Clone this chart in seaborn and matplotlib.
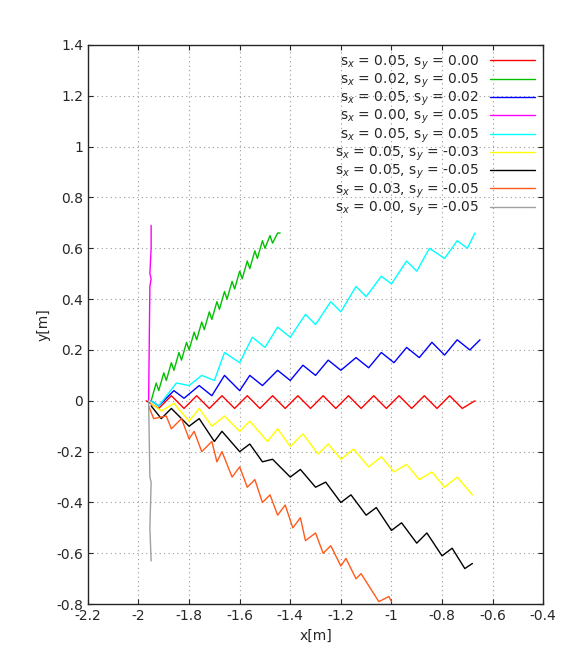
import matplotlib
matplotlib.use("Agg")
import matplotlib.pyplot as plt
import seaborn as sns


def zigzag(start, troughs, peaks, end):
    # merge trough/peak lists in x order
    pts = [start] + sorted(troughs + peaks, key=lambda p: p[0]) + [end]
    return [p[0] for p in pts], [p[1] for p in pts]


red_x = [-1.97, -1.92, -1.87, -1.82, -1.77, -1.72, -1.67, -1.62, -1.57, -1.52, -1.47, -1.42, -1.37,
         -1.32, -1.27, -1.22, -1.17, -1.12, -1.07, -1.02, -0.97, -0.92, -0.87, -0.82, -0.77, -0.72, -0.67]
red_y = [0.0, -0.03, 0.02, -0.03, 0.02, -0.03, 0.02, -0.03, 0.02, -0.03, 0.02, -0.03, 0.02,
         -0.03, 0.02, -0.03, 0.02, -0.03, 0.02, -0.03, 0.02, -0.03, 0.02, -0.03, 0.02, -0.03, 0.0]

green_x = [-1.95, -1.93, -1.92, -1.90, -1.89, -1.87, -1.86, -1.84, -1.83, -1.81, -1.80, -1.78, -1.77,
           -1.75, -1.74, -1.72, -1.71, -1.69, -1.68, -1.66, -1.65, -1.63, -1.62, -1.60, -1.59, -1.57,
           -1.56, -1.54, -1.53, -1.51, -1.50, -1.48, -1.47, -1.45, -1.44]
green_y = [0.0, 0.07, 0.04, 0.11, 0.08, 0.15, 0.12, 0.19, 0.16, 0.23, 0.20, 0.27, 0.24,
           0.31, 0.28, 0.35, 0.32, 0.39, 0.36, 0.43, 0.40, 0.47, 0.44, 0.51, 0.48, 0.55,
           0.52, 0.59, 0.56, 0.63, 0.60, 0.65, 0.62, 0.66, 0.66]

blue_troughs = [(-1.92, -0.02), (-1.82, 0.01), (-1.71, 0.02), (-1.60, 0.04), (-1.51, 0.06), (-1.40, 0.08),
                (-1.30, 0.10), (-1.20, 0.12), (-1.09, 0.13), (-0.99, 0.15), (-0.89, 0.17), (-0.79, 0.18), (-0.69, 0.20)]
blue_peaks = [(-1.86, 0.04), (-1.76, 0.06), (-1.66, 0.10), (-1.56, 0.10), (-1.45, 0.12), (-1.35, 0.14),
              (-1.25, 0.16), (-1.14, 0.17), (-1.04, 0.19), (-0.94, 0.21), (-0.84, 0.23), (-0.74, 0.24)]

cyan_troughs = [(-1.92, -0.02), (-1.80, 0.06), (-1.70, 0.08), (-1.60, 0.15), (-1.50, 0.21), (-1.40, 0.25),
                (-1.30, 0.30), (-1.20, 0.35), (-1.10, 0.41), (-1.00, 0.46), (-0.90, 0.51), (-0.79, 0.56), (-0.70, 0.60)]
cyan_peaks = [(-1.85, 0.07), (-1.75, 0.10), (-1.66, 0.19), (-1.55, 0.25), (-1.45, 0.29), (-1.34, 0.34),
              (-1.24, 0.39), (-1.14, 0.45), (-1.04, 0.49), (-0.94, 0.55), (-0.85, 0.60), (-0.74, 0.63)]

yellow_troughs = [(-1.91, -0.04), (-1.80, -0.08), (-1.71, -0.10), (-1.60, -0.12), (-1.49, -0.16), (-1.40, -0.18),
                  (-1.29, -0.21), (-1.20, -0.23), (-1.09, -0.26), (-0.99, -0.28), (-0.89, -0.31), (-0.79, -0.34)]
yellow_peaks = [(-1.86, -0.01), (-1.76, -0.03), (-1.66, -0.06), (-1.56, -0.08), (-1.45, -0.11), (-1.35, -0.13),
                (-1.25, -0.17), (-1.15, -0.19), (-1.04, -0.22), (-0.94, -0.25), (-0.84, -0.28), (-0.74, -0.30)]

black_troughs = [(-1.91, -0.07), (-1.80, -0.10), (-1.70, -0.16), (-1.60, -0.20), (-1.51, -0.24), (-1.40, -0.30),
                 (-1.30, -0.34), (-1.20, -0.40), (-1.10, -0.45), (-1.00, -0.51), (-0.90, -0.56), (-0.80, -0.61), (-0.71, -0.66)]
black_peaks = [(-1.87, -0.03), (-1.76, -0.07), (-1.67, -0.12), (-1.56, -0.17), (-1.47, -0.23), (-1.36, -0.27),
               (-1.26, -0.32), (-1.16, -0.37), (-1.06, -0.42), (-0.96, -0.48), (-0.86, -0.52), (-0.76, -0.58)]

orange_troughs = [(-1.94, -0.07), (-1.87, -0.11), (-1.80, -0.15), (-1.75, -0.20), (-1.69, -0.24), (-1.63, -0.30),
                  (-1.57, -0.34), (-1.51, -0.40), (-1.45, -0.45), (-1.39, -0.50), (-1.34, -0.55), (-1.27, -0.60),
                  (-1.20, -0.65), (-1.14, -0.70), (-1.05, -0.79)]
orange_peaks = [(-1.89, -0.06), (-1.83, -0.07), (-1.78, -0.12), (-1.71, -0.16), (-1.67, -0.20), (-1.60, -0.26),
                (-1.54, -0.31), (-1.48, -0.37), (-1.42, -0.41), (-1.36, -0.46), (-1.30, -0.52), (-1.24, -0.57),
                (-1.18, -0.62), (-1.12, -0.68), (-1.01, -0.77)]

magenta_x = [-1.96, -1.955, -1.95, -1.955, -1.95, -1.95]
magenta_y = [0.0, 0.45, 0.48, 0.50, 0.60, 0.69]
gray_x = [-1.96, -1.955, -1.95, -1.955, -1.95]
gray_y = [0.0, -0.30, -0.32, -0.50, -0.63]

labels = ["s$_x$ = 0.05, s$_y$ = 0.00", "s$_x$ = 0.02, s$_y$ = 0.05", "s$_x$ = 0.05, s$_y$ = 0.02",
          "s$_x$ = 0.00, s$_y$ = 0.05", "s$_x$ = 0.05, s$_y$ = 0.05", "s$_x$ = 0.05, s$_y$ = -0.03",
          "s$_x$ = 0.05, s$_y$ = -0.05", "s$_x$ = 0.03, s$_y$ = -0.05", "s$_x$ = 0.00, s$_y$ = -0.05"]
colors = ["#ff0000", "#00c000", "#0000ff", "#ff00ff", "#00ffff", "#ffff00", "#000000", "#ff5a1a", "#a0a0a0"]

series = [
    (red_x, red_y),
    (green_x, green_y),
    zigzag((-1.95, 0.0), blue_troughs, blue_peaks, (-0.65, 0.24)),
    (magenta_x, magenta_y),
    zigzag((-1.95, 0.0), cyan_troughs, cyan_peaks, (-0.67, 0.66)),
    zigzag((-1.95, -0.01), yellow_troughs, yellow_peaks, (-0.68, -0.37)),
    zigzag((-1.95, -0.02), black_troughs, black_peaks, (-0.68, -0.64)),
    zigzag((-1.96, -0.02), orange_troughs, orange_peaks, (-1.00, -0.79)),
    (gray_x, gray_y),
]

sns.set_style("ticks")
fig = plt.figure(figsize=(5.86, 6.61), dpi=100)
ax = fig.add_axes([0.150, 0.086, 0.777, 0.846])

for (xs, ys), lab, col in zip(series, labels, colors):
    sns.lineplot(x=xs, y=ys, sort=False, estimator=None, color=col, label=lab,
                 linewidth=1.0, ax=ax)

ax.set_xlim(-2.2, -0.4)
ax.set_ylim(-0.8, 1.4)
ax.set_xticks([-2.2, -2.0, -1.8, -1.6, -1.4, -1.2, -1.0, -0.8, -0.6, -0.4])
ax.set_xticklabels(["-2.2", "-2", "-1.8", "-1.6", "-1.4", "-1.2", "-1", "-0.8", "-0.6", "-0.4"])
ax.set_yticks([-0.8, -0.6, -0.4, -0.2, 0, 0.2, 0.4, 0.6, 0.8, 1.0, 1.2, 1.4])
ax.set_yticklabels(["-0.8", "-0.6", "-0.4", "-0.2", "0", "0.2", "0.4", "0.6", "0.8", "1", "1.2", "1.4"])
ax.grid(True, color="#999999", linestyle=(0, (1, 3)), linewidth=0.8)
ax.tick_params(direction="in", labelsize=10, top=True, right=True)
for s in ax.spines.values():
    s.set_linewidth(1.0)
ax.set_xlabel("x[m]", fontsize=10)
ax.set_ylabel("y[m]", fontsize=10)

leg = ax.legend(loc="upper right", frameon=False, markerfirst=False, fontsize=10,
                handlelength=3.2, labelspacing=0.0, borderaxespad=0.2, handletextpad=0.8)
for t in leg.get_texts():
    t.set_ha("right")

fig.savefig("out.png", dpi=100)
